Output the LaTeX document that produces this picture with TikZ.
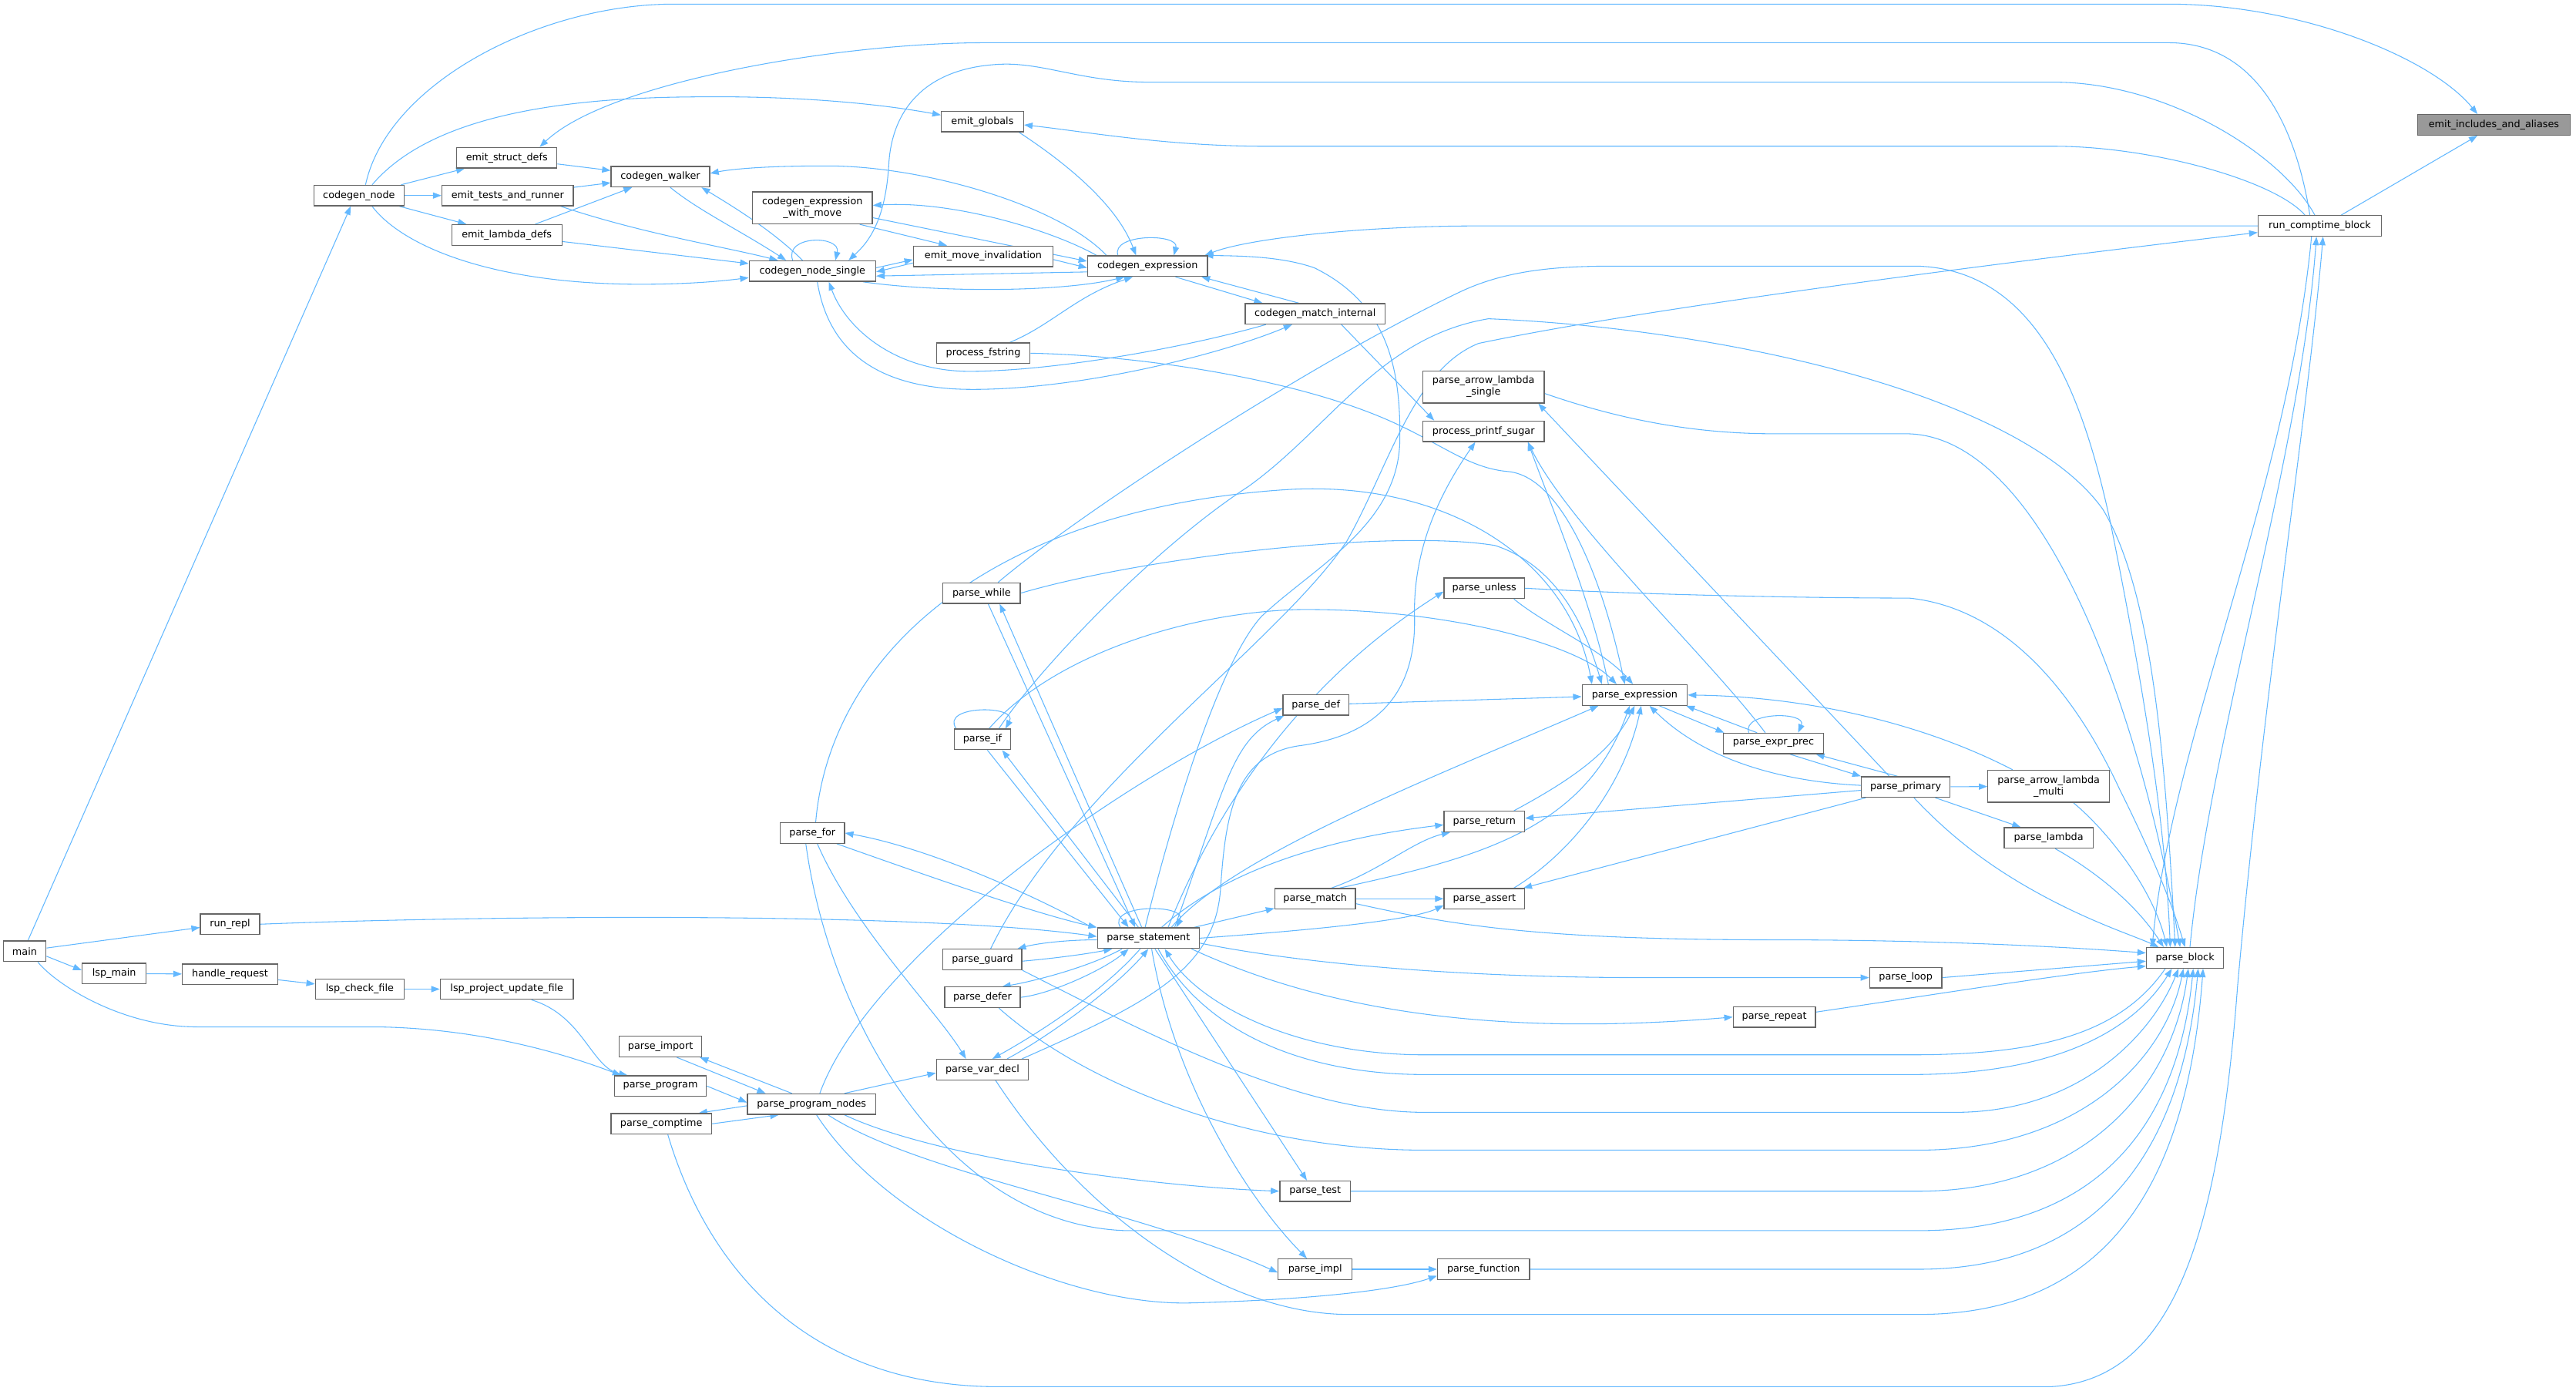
\documentclass[tikz,border=0pt]{standalone}
\usepackage{fontspec}
\setmainfont{DejaVu Sans}
\usetikzlibrary{arrows.meta}
\definecolor{edgeblue}{HTML}{63B8FF}
\definecolor{rootgray}{HTML}{999999}
\definecolor{boxline}{HTML}{666666}
\pgfdeclarelayer{bg}
\pgfsetlayers{bg,main}
\tikzset{
  fn/.style={draw=boxline, fill=white, line width=0.6pt, font=\fontsize{6}{7}\selectfont,
    inner sep=0pt, minimum height=12.5pt, align=center},
  fn2/.style={fn, minimum height=19.5pt},
  cl/.style={draw=edgeblue, line width=0.5pt, -{Triangle[length=5.2pt,width=3.8pt]}},
}
\begin{document}
\begin{tikzpicture}[x=1pt,y=-1pt]
\useasboundingbox (0,0) rectangle (1568,846.6);
% nodes
\node[fn, minimum width=93pt, fill=rootgray] (eia) at (1518,76) {emit\_includes\_and\_aliases};
\node[fn, minimum width=75pt] (rcb) at (1412,137.5) {run\_comptime\_block};
\node[fn, minimum width=50pt] (eg) at (598,74) {emit\_globals};
\node[fn, minimum width=61pt] (esd) at (308.5,96) {emit\_struct\_defs};
\node[fn, minimum width=60pt] (cw) at (402,107.5) {codegen\_walker};
\node[fn, minimum width=55pt] (cn) at (218.5,119) {codegen\_node};
\node[fn, minimum width=80pt] (etr) at (309,119) {emit\_tests\_and\_runner};
\node[fn, minimum width=67pt] (eld) at (308.5,143) {emit\_lambda\_defs};
\node[fn2, minimum width=73pt] (cewm) at (494.5,126.5) {codegen\_expression\\\_with\_move};
\node[fn, minimum width=85pt] (emi) at (598.5,156) {emit\_move\_invalidation};
\node[fn, minimum width=77pt] (cns) at (494.5,165) {codegen\_node\_single};
\node[fn, minimum width=73pt] (ce) at (698.5,162) {codegen\_expression};
\node[fn, minimum width=85pt] (cmi) at (800.5,191) {codegen\_match\_internal};
\node[fn, minimum width=57pt] (pf) at (598.5,215) {process\_fstring};
\node[fn2, minimum width=74pt] (pals) at (903,235.5) {parse\_arrow\_lambda\\\_single};
\node[fn, minimum width=74pt] (pps) at (903,262.5) {process\_printf\_sugar};
\node[fn, minimum width=49pt] (pu) at (903.5,358) {parse\_unless};
\node[fn, minimum width=47pt] (pw) at (597.5,361) {parse\_while};
\node[fn, minimum width=64pt] (pe) at (995,423) {parse\_expression};
\node[fn, minimum width=40pt] (pd) at (801,429) {parse\_def};
\node[fn, minimum width=34pt] (pi) at (598,450) {parse\_if};
\node[fn, minimum width=61pt] (pep) at (1079.5,452.5) {parse\_expr\_prec};
\node[fn, minimum width=54pt] (pp) at (1160,479) {parse\_primary};
\node[fn2, minimum width=74pt] (palm) at (1247,478.5) {parse\_arrow\_lambda\\\_multi};
\node[fn, minimum width=49pt] (pr) at (903.5,500) {parse\_return};
\node[fn, minimum width=39pt] (pfor) at (494.5,507) {parse\_for};
\node[fn, minimum width=54pt] (pl) at (1247,510) {parse\_lambda};
\node[fn, minimum width=49pt] (pm) at (800.5,547) {parse\_match};
\node[fn, minimum width=49pt] (pa) at (903.5,547) {parse\_assert};
\node[fn, minimum width=36pt] (rr) at (140,562.5) {run\_repl};
\node[fn, minimum width=62pt] (ps) at (699,571) {parse\_statement};
\node[fn, minimum width=47pt] (pb) at (1330,583) {parse\_block};
\node[fn, minimum width=26pt] (main) at (15,579) {main};
\node[fn, minimum width=39pt] (lm) at (69.5,592.5) {lsp\_main};
\node[fn, minimum width=58pt] (hr) at (140,593) {handle\_request};
\node[fn, minimum width=48pt] (pg) at (598,584) {parse\_guard};
\node[fn, minimum width=54pt] (lcf) at (219,602) {lsp\_check\_file};
\node[fn, minimum width=81pt] (lpuf) at (308.5,602) {lsp\_project\_update\_file};
\node[fn, minimum width=44pt] (ploop) at (1160,595) {parse\_loop};
\node[fn, minimum width=46pt] (pdf) at (598,607) {parse\_defer};
\node[fn, minimum width=50pt] (prep) at (1080,619) {parse\_repeat};
\node[fn, minimum width=50pt] (pim) at (402,637) {parse\_import};
\node[fn, minimum width=56pt] (pvd) at (598,651) {parse\_var\_decl};
\node[fn, minimum width=56pt] (pprog) at (402,661) {parse\_program};
\node[fn, minimum width=78pt] (ppn) at (494,672) {parse\_program\_nodes};
\node[fn, minimum width=61pt] (pct) at (402.5,684) {parse\_comptime};
\node[fn, minimum width=43pt] (pt) at (800.5,725) {parse\_test};
\node[fn, minimum width=45pt] (pim2) at (800.5,772.5) {parse\_impl};
\node[fn, minimum width=56pt] (pfn) at (903,772.5) {parse\_function};
% edges
\begin{pgfonlayer}{bg}
\draw[cl] ([xshift=13pt]rcb.north) -- ([xshift=-10pt]eia.south);
\draw[cl] ([xshift=4pt]cn.north) .. controls (236,50) and (330,2.5) .. (410,2.5) -- (1320,2.5) .. controls (1400,2.5) and (1480,35) .. ([xshift=-10pt]eia.north);
\draw[cl] ([xshift=-6pt]rcb.north) .. controls (1398,80) and (1375,26) .. (1320,26) -- (600,26) .. controls (510,26) and (370,50) .. ([xshift=20pt]esd.north);
\draw[cl] ([xshift=-3pt]rcb.north) .. controls (1390,95) and (1320,50) .. (1250,50) -- (700,50) .. controls (660,50) and (638,39) .. (612,39) .. controls (565,40) and (543,65) .. (541,100) .. controls (539,135) and (528,148) .. ([xshift=22pt]cns.north);
\draw[cl] ([xshift=-9pt]rcb.north) .. controls (1385,110) and (1310,89) .. (1250,89) -- (770,89) .. controls (710,89) and (660,80) .. ([yshift=-2pt]eg.east);
\draw[cl] ([xshift=8pt]cn.north) .. controls (250,85) and (300,60) .. (420,59) .. controls (490,58) and (540,64) .. ([yshift=4pt]eg.west);
\draw[cl] (rcb.west) -- (900,137.5) .. controls (830,137.5) and (760,145) .. ([xshift=-2pt]ce.north east);
\draw[cl] (cn) -- (esd);
\draw[cl] (cn) -- (etr);
\draw[cl] (cn) -- (eld);
\draw[cl] (esd) -- (cw);
\draw[cl] (etr) -- (cw);
\draw[cl] (eld) -- (cw);
\draw[cl] ([xshift=-8pt]etr.south east) .. controls (390,142) and (440,150) .. ([xshift=-21pt]cns.north);
\draw[cl] (eld) -- (cns);
\draw[cl] ([xshift=8pt]cn.south) .. controls (245,150) and (300,173) .. (390,173) .. controls (420,173) and (440,171) .. ([yshift=-4pt]cns.west);
\draw[cl] ([xshift=6pt]cw.south) .. controls (425,128) and (450,140) .. ([xshift=-16pt]cns.north);
\draw[cl] ([xshift=-6pt]cns.north) .. controls (470,140) and (445,125) .. ([xshift=25pt]cw.south);
\draw[cl] ([xshift=-12pt]cns.north) .. controls (477,143) and (512,143) .. ([xshift=14pt]cns.north);
\draw[cl] ([xshift=-25pt]ce.north) .. controls (645,125) and (560,100) .. (500,101) .. controls (465,101) and (445,103) .. ([yshift=2pt]cw.east);
\draw[cl] ([xshift=-31pt]ce.north) .. controls (640,140) and (580,122) .. ([yshift=1.5pt]cewm.east);
\draw[cl] ([xshift=-8pt]cewm.south east) -- ([xshift=-22pt]emi.north);
\draw[cl] ([yshift=-6pt]cewm.east) -- ([yshift=3pt]ce.west);
\draw[cl] ([yshift=2pt]cns.east) -- ([yshift=-2pt]emi.west);
\draw[cl] ([yshift=-4pt]emi.west) -- ([yshift=-0.5pt]cns.east);
\draw[cl] ([yshift=-2pt]emi.east) -- ([yshift=-1pt]ce.west);
\draw[cl] ([yshift=-3.5pt]ce.west) -- ([yshift=-3pt]cns.east);
\draw[cl] ([xshift=-8pt]cns.south east) .. controls (570,178) and (645,178) .. ([xshift=-14pt]ce.south);
\draw[cl] ([xshift=-18pt]ce.north) .. controls (676,142) and (718,142) .. ([xshift=16pt]ce.north);
\draw[cl] ([xshift=-3pt]eg.south east) .. controls (650,100) and (680,125) .. ([xshift=-7pt]ce.north);
\draw[cl] ([xshift=17pt]ce.south) -- ([xshift=-32pt]cmi.north);
\draw[cl] ([xshift=-10pt]cmi.north) -- ([xshift=-4pt]ce.south east);
\draw[cl] ([xshift=16pt]pf.north) .. controls (640,198) and (655,180) .. ([xshift=-9pt]ce.south);
\draw[cl] ([xshift=3pt]cns.south) .. controls (505,218) and (540,237) .. (592,237) .. controls (660,237) and (745,215) .. ([xshift=-14pt]cmi.south);
\draw[cl] ([xshift=-30pt]cmi.south) .. controls (720,212) and (640,226) .. (590,226) .. controls (545,226) and (515,200) .. ([xshift=10pt]cns.south);
\draw[cl] ([xshift=16pt]cmi.south) -- ([xshift=-30pt]pps.north);
\draw[cl] (pf.east) .. controls (690,216) and (790,230) .. (850,258) .. controls (880,272) and (895,285) .. (918,287) .. controls (950,290) and (975,350) .. ([xshift=-6pt]pe.north);
\draw[cl] ([xshift=-2pt]ps.north) .. controls (718,480) and (745,400) .. (768,375) .. controls (800,345) and (850,320) .. (852,270) .. controls (853,225) and (845,185) .. (800,163) .. controls (780,156) and (755,155.75) .. ([xshift=-2pt]ce.north east);
\draw[cl] ([xshift=24pt]pvd.north) .. controls (700,610) and (740,590) .. (743,540) .. controls (746,495) and (752,460) .. (790,454) .. controls (845,447) and (862,415) .. (861,375) .. controls (860,330) and (880,295) .. ([xshift=-5pt]pps.south);
\draw[cl] ([xshift=-16pt]pe.north) .. controls (970,370) and (945,310) .. ([xshift=27pt]pps.south);
\draw[cl] ([xshift=-5pt]pep.north) .. controls (1040,400) and (955,320) .. ([xshift=27pt]pps.south);
\draw[cl] ([xshift=-10pt]pp.north) -- ([xshift=-4pt]pals.south east);
\draw[cl] ([yshift=-4pt]pals.east) .. controls (985,255) and (1030,264) .. (1080,264) -- (1160,264) .. controls (1240,264) and (1300,420) .. ([xshift=-3pt]pb.north);
\draw[cl] ([xshift=10pt]pi.north) .. controls (630,410) and (700,335) .. (760,296) .. controls (810,260) and (840,205) .. (906,194) .. controls (1050,200) and (1230,240) .. (1280,310) .. controls (1310,360) and (1318,460) .. ([xshift=-6pt]pb.north);
\draw[cl] ([xshift=10pt]pw.north) .. controls (660,310) and (800,220) .. (888,178) .. controls (915,165) and (945,162) .. (980,162) -- (1168,162) .. controls (1240,165) and (1268,240) .. (1285,320) .. controls (1305,420) and (1318,500) .. ([xshift=-9pt]pb.north);
\draw[cl] (pu.east) .. controls (1000,362) and (1100,364) .. (1162,364) .. controls (1220,370) and (1262,420) .. (1290,480) .. controls (1310,520) and (1322,550) .. (pb.north);
\draw[cl] ([xshift=5pt]pp.south) .. controls (1190,512) and (1215,530) .. (1245,546) .. controls (1275,562) and (1300,570) .. ([xshift=-16pt]pb.north);
\draw[cl] ([xshift=15pt]palm.south) .. controls (1282,505) and (1310,540) .. ([xshift=-11pt]pb.north);
\draw[cl] ([xshift=4pt]pl.south) .. controls (1275,530) and (1300,550) .. ([xshift=-13pt]pb.north);
\draw[cl] (pp) -- (palm);
\draw[cl] ([xshift=18pt]pp.south) -- ([xshift=-17pt]pl.north);
\draw[cl] (ploop.east) -- ([yshift=-2pt]pb.west);
\draw[cl] ([yshift=-3pt]pm.east) .. controls (880,562) and (930,572) .. (1079,572) .. controls (1160,572) and (1240,575) .. ([yshift=3pt]pb.west);
\draw[cl] ([yshift=3pt]prep.east) .. controls (1180,605) and (1260,592) .. ([yshift=-5pt]pb.west);
\draw[cl] ([xshift=3pt]pb.north) .. controls (1345,450) and (1400,280) .. ([xshift=-2pt]rcb.south);
\draw[cl] ([xshift=-5pt]rcb.south) .. controls (1392,300) and (1322,450) .. ([xshift=-20pt]pb.north);
\draw[cl] ([xshift=4pt]pct.south) .. controls (430,770) and (490,844) .. (608,844) -- (1248,844) .. controls (1320,840) and (1350,760) .. (1362,600) .. controls (1378,420) and (1405,250) .. ([xshift=2pt]rcb.south);
\draw[cl] ([xshift=5pt]pg.north) .. controls (650,480) and (780,390) .. (820,329) .. controls (845,285) and (860,225) .. (900,209) .. controls (1000,188) and (1200,162) .. ([yshift=-4pt]rcb.west);
\draw[cl] ([xshift=4pt]pw.south) -- ([xshift=-8pt]ps.north);
\draw[cl] ([xshift=-4pt]ps.north) -- ([xshift=11pt]pw.south);
\draw[cl] ([xshift=3pt]pi.south) -- ([xshift=-12pt]ps.north);
\draw[cl] ([xshift=-6pt]ps.north) -- ([xshift=12pt]pi.south);
\draw[cl] ([xshift=-16pt]pi.north) .. controls (572,429) and (620,429) .. ([xshift=14pt]pi.north);
\draw[cl] ([xshift=-3pt]ps.north west) .. controls (620,540) and (560,515) .. (pfor.east);
\draw[cl] ([xshift=-5pt]pfor.south east) .. controls (570,535) and (630,556) .. (ps.north west);
\draw[cl] (rr.east) .. controls (300,557) and (560,555) .. ([yshift=1pt]ps.west);
\draw[cl] ([yshift=-1pt]ps.west) .. controls (650,572) and (632,574) .. ([xshift=-3pt]pg.north east);
\draw[cl] ([yshift=-1pt]pg.east) .. controls (645,583) and (665,580) .. ([xshift=-22pt]ps.south);
\draw[cl] ([xshift=-16pt]ps.south) .. controls (660,590) and (625,598) .. ([xshift=12pt]pdf.north);
\draw[cl] (pdf.east) .. controls (640,605) and (672,590) .. ([xshift=-12pt]ps.south);
\draw[cl] ([xshift=-5pt]ps.south) .. controls (670,605) and (630,630) .. ([xshift=6pt]pvd.north);
\draw[cl] ([xshift=15pt]pvd.north) .. controls (640,630) and (680,600) .. (ps.south);
\draw[cl] ([xshift=-17pt]ps.north) .. controls (673,550) and (723,550) .. ([xshift=17pt]ps.north);
\draw[cl] (ps) -- (pm);
\draw[cl] (ps.east) .. controls (800,566) and (860,560) .. ([yshift=-4pt]pa.west);
\draw[cl] (pm) -- (pa);
\draw[cl] ([xshift=10pt]pm.north) .. controls (840,530) and (860,512) .. ([xshift=4pt]pr.south west);
\draw[cl] ([xshift=8pt]ps.north) .. controls (740,535) and (795,512) .. ([yshift=-2pt]pr.west);
\draw[cl] ([xshift=15pt]pm.north) .. controls (900,522) and (965,505) .. ([xshift=-3pt]pe.south);
\draw[cl] ([xshift=18pt]pa.north) .. controls (955,520) and (988,480) .. ([xshift=4pt]pe.south);
\draw[cl] ([xshift=18pt]pr.north) .. controls (950,478) and (980,460) .. (pe.south);
\draw[cl] ([xshift=14pt]ps.north) .. controls (750,520) and (880,470) .. ([xshift=-22pt]pe.south);
\draw[cl] ([yshift=-2pt]pp.west) -- ([yshift=2pt]pr.east);
\draw[cl] ([xshift=3pt]pp.south west) -- ([xshift=-1pt]pa.north east);
\draw[cl] ([yshift=1pt]pp.west) .. controls (1090,476) and (1040,465) .. ([xshift=9pt]pe.south);
\draw[cl] ([xshift=15pt]pe.south) -- ([xshift=-30pt]pep.north);
\draw[cl] ([xshift=-10pt]pep.north) -- ([xshift=-1pt]pe.south east);
\draw[cl] ([xshift=-15pt]pep.north) .. controls (1060,433) and (1100,433) .. ([xshift=15pt]pep.north);
\draw[cl] ([xshift=10pt]pep.south) -- (pp.north west);
\draw[cl] ([xshift=-5pt]pp.north) -- ([xshift=-5pt]pep.south east);
\draw[cl] ([xshift=-22pt]palm.north) .. controls (1170,440) and (1100,424) .. (pe.east);
\draw[cl] (pd) -- (pe);
\draw[cl] ([xshift=18pt]pu.south) .. controls (940,380) and (975,395) .. ([xshift=-1pt]pe.north);
\draw[cl] ([xshift=12pt]ps.north) .. controls (745,480) and (800,410) .. ([yshift=-2pt]pu.west);
\draw[cl] (pw.east) .. controls (700,338) and (850,322) .. (910,332) .. controls (950,345) and (966,385) .. ([xshift=-20pt]pe.north);
\draw[cl] ([xshift=4pt]pi.north) .. controls (640,400) and (720,373) .. (790,371) .. controls (880,370) and (960,392) .. ([xshift=-11pt]pe.north);
\draw[cl] ([xshift=2pt]pfor.north) .. controls (505,400) and (600,310) .. (783,298) .. controls (880,292) and (955,340) .. ([xshift=-26pt]pe.north);
\draw[cl] ([xshift=16pt]ps.north) .. controls (745,480) and (750,450) .. ([xshift=1pt]pd.south west);
\draw[cl] ([xshift=5pt]ppn.north) .. controls (530,580) and (690,470) .. ([yshift=-2pt]pd.west);
\draw[cl] ([yshift=-3pt]ps.east) .. controls (800,588) and (900,595) .. (1000,595) -- (ploop.west);
\draw[cl] ([xshift=-5pt]ps.south east) .. controls (800,612) and (900,632) .. (prep.west);
\draw[cl] ([xshift=-12pt]pb.south) .. controls (1290,630) and (1240,642) .. (1163,642) -- (867,642) .. controls (790,642) and (730,612) .. ([xshift=10pt]ps.south);
\draw[cl] ([xshift=6pt]ps.south) .. controls (735,632) and (800,654) .. (867,654) -- (1163,654) .. controls (1255,654) and (1300,625) .. ([xshift=-8pt]pb.south);
\draw[cl] (pg.south east) .. controls (700,630) and (790,677) .. (867,677) -- (1190,677) .. controls (1270,677) and (1312,625) .. ([xshift=-4pt]pb.south);
\draw[cl] ([xshift=10pt]pdf.south) .. controls (660,660) and (760,700) .. (867,700) -- (1168,700) .. controls (1265,700) and (1318,645) .. ([xshift=-1pt]pb.south);
\draw[cl] (pt.east) -- (1168,725) .. controls (1265,725) and (1322,665) .. ([xshift=2pt]pb.south);
\draw[cl] ([xshift=-4pt]pfor.south) .. controls (505,620) and (575,745) .. (685,749) -- (1168,749) .. controls (1272,749) and (1325,690) .. ([xshift=5pt]pb.south);
\draw[cl] (pfn.east) -- (1168,772.5) .. controls (1278,772.5) and (1328,700) .. ([xshift=8pt]pb.south);
\draw[cl] ([xshift=8pt]pvd.south) .. controls (660,740) and (745,800) .. (821,800) -- (1168,800) .. controls (1290,800) and (1332,710) .. ([xshift=11pt]pb.south);
\draw[cl] ([xshift=4pt]ps.south) -- ([xshift=-5pt]pt.north);
\draw[cl] ([xshift=2pt]ps.south) .. controls (715,660) and (760,730) .. ([xshift=-5pt]pim2.north);
\draw[cl] (pim2) -- (pfn);
\draw[cl] ([xshift=20pt]ppn.south) .. controls (570,705) and (700,722) .. (pt.west);
\draw[cl] ([xshift=10pt]ppn.south) .. controls (560,715) and (690,735) .. ([yshift=-2pt]pim2.west);
\draw[cl] ([xshift=3pt]ppn.south) .. controls (540,745) and (650,795) .. (725,793) .. controls (800,791) and (850,785) .. ([yshift=-4pt]pfn.west);
\draw[cl] ([xshift=3pt]pfor.south) .. controls (520,565) and (570,615) .. ([xshift=-10pt]pvd.north);
\draw[cl] ([xshift=20pt]ppn.north) -- ([yshift=-2pt]pvd.west);
\draw[cl] (pprog.east) -- ([yshift=1pt]ppn.west);
\draw[cl] ([xshift=10pt]pim.south) -- ([xshift=-28pt]ppn.north);
\draw[cl] ([xshift=-12pt]ppn.north) -- ([xshift=24pt]pim.south);
\draw[cl] ([yshift=-1pt]ppn.west) -- ([xshift=-8pt]pct.north east);
\draw[cl] (pct.east) -- ([xshift=-20pt]ppn.south);
\draw[cl] ([yshift=2pt]main.east) -- ([yshift=-2pt]rr.west);
\draw[cl] ([yshift=-3pt]main.east) -- ([yshift=2pt]lm.west);
\draw[cl] (lm) -- (hr);
\draw[cl] (hr) -- (lcf);
\draw[cl] (lcf) -- (lpuf);
\draw[cl] ([xshift=15pt]lpuf.south) .. controls (355,618) and (360,650) .. ([xshift=-20pt]pprog.north);
\draw[cl] ([xshift=8pt]main.south) .. controls (35,600) and (75,625) .. (120,625) -- (230,625) .. controls (290,626) and (340,640) .. ([xshift=-24pt]pprog.north);
\draw[cl] ([xshift=2pt]main.north) -- ([xshift=-5pt]cn.south);
\end{pgfonlayer}
\end{tikzpicture}
\end{document}
